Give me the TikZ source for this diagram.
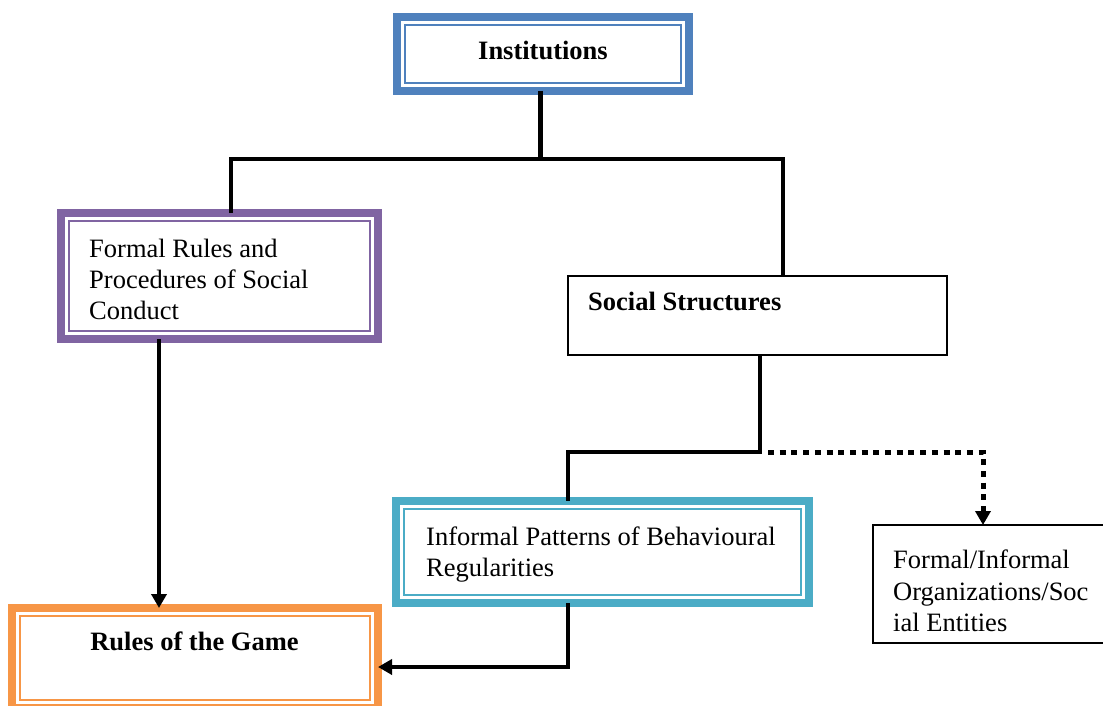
\documentclass[tikz,border=0pt]{standalone}
\usepackage{fontspec}
\setmainfont{Liberation Serif}
\usetikzlibrary{arrows.meta,calc}

\definecolor{frameblue}{HTML}{4F81BD}
\definecolor{framepurple}{HTML}{8064A2}
\definecolor{frameorange}{HTML}{F79646}
\definecolor{frameteal}{HTML}{4BACC6}

\tikzset{
  framed/.style={rectangle, draw=#1, line width=8pt, outer sep=0pt, inner sep=0pt, fill=white},
  innerline/.style={draw=#1, line width=2.2pt},
  plainbox/.style={rectangle, draw=black, line width=1.8pt, outer sep=0pt, inner sep=0pt, fill=white},
  boxtext/.style={inner sep=0pt, align=left, font=\fontsize{26.5}{31}\selectfont},
  boldtext/.style={inner sep=0pt, font=\fontsize{26.5}{31}\selectfont\bfseries},
  link/.style={line width=3.5pt},
  stem/.style={line width=5pt},
  dotlink/.style={line width=5pt, dash pattern=on 6pt off 5.7pt},
  tip/.style={-{Triangle[width=15pt,length=14pt]}}
}

% thin second border just inside a framed box
\newcommand\innerframe[2]{%
  \draw[innerline=#2] ($(#1.north west)+(8pt,-8pt)$) rectangle ($(#1.south east)+(-8pt,8pt)$);}

\begin{document}
\begin{tikzpicture}[x=1pt, y=-1pt, line join=miter]
\useasboundingbox (0,0) rectangle (1103,706);
\clip (0,0) rectangle (1103,706);

% boxes
\node[framed=frameblue,   minimum width=292pt, minimum height=74pt]  (inst) at (543,54)      {};
\node[framed=framepurple, minimum width=317pt, minimum height=126pt] (fr)   at (219.5,276)   {};
\node[framed=frameorange, minimum width=366pt, minimum height=100pt] (rg)   at (195,658)     {};
\node[framed=frameteal,   minimum width=413pt, minimum height=102pt] (ip)   at (602.5,552)   {};
\node[plainbox,           minimum width=379pt, minimum height=79pt]  (ss)   at (757.5,315.5) {};
\node[plainbox,           minimum width=239pt, minimum height=118pt] (fo)   at (992.5,584)   {};

\innerframe{inst}{frameblue}
\innerframe{fr}{framepurple}
\innerframe{rg}{frameorange}
\innerframe{ip}{frameteal}

% texts
\node[boldtext, anchor=base] (instT) at (543,60) {Institutions};
\node[boxtext, anchor=north west] (frT) at (89,239) {Formal Rules and\\Procedures of Social\\Conduct};
\node[boldtext, anchor=base] (rgT) at (194.5,650) {Rules of the Game};
\node[boldtext, anchor=base west] (ssT) at (588,310) {Social Structures};
\node[boxtext, anchor=north west] (ipT) at (426,527) {Informal Patterns of Behavioural\\Regularities};
\node[boxtext, anchor=north west, font=\fontsize{26.5}{31.5}\selectfont] (foT) at (893,550) {Formal/Informal\\Organizations/Soc\\ial Entities};

% junction points
\coordinate (j1) at (540,159);
\coordinate (jL) at (231,159);
\coordinate (jR) at (783,159);
\coordinate (k1) at (760,452);
\coordinate (k2) at (568,452);
\coordinate (k3) at (983,452);
\coordinate (a1) at (159,450);
\coordinate (m1) at (568,667);

% connectors
\draw[stem] (inst.south -| j1) -- (j1);
\draw[link] (fr.north -| jL) -- (jL) -- (jR) -- (ss.north -| jR);
\draw[link, tip] (fr.south -| a1) -- (rg.north -| a1);
\draw[link] (ss.south -| k1) -- (k1) -- (k2) -- (ip.north -| k2);
\draw[dotlink, tip] ([xshift=8pt]k1) -- (k3) -- (fo.north -| k3);
\draw[link, tip] (ip.south -| m1) -- (m1) -- (rg.east |- m1);
\end{tikzpicture}
\end{document}
